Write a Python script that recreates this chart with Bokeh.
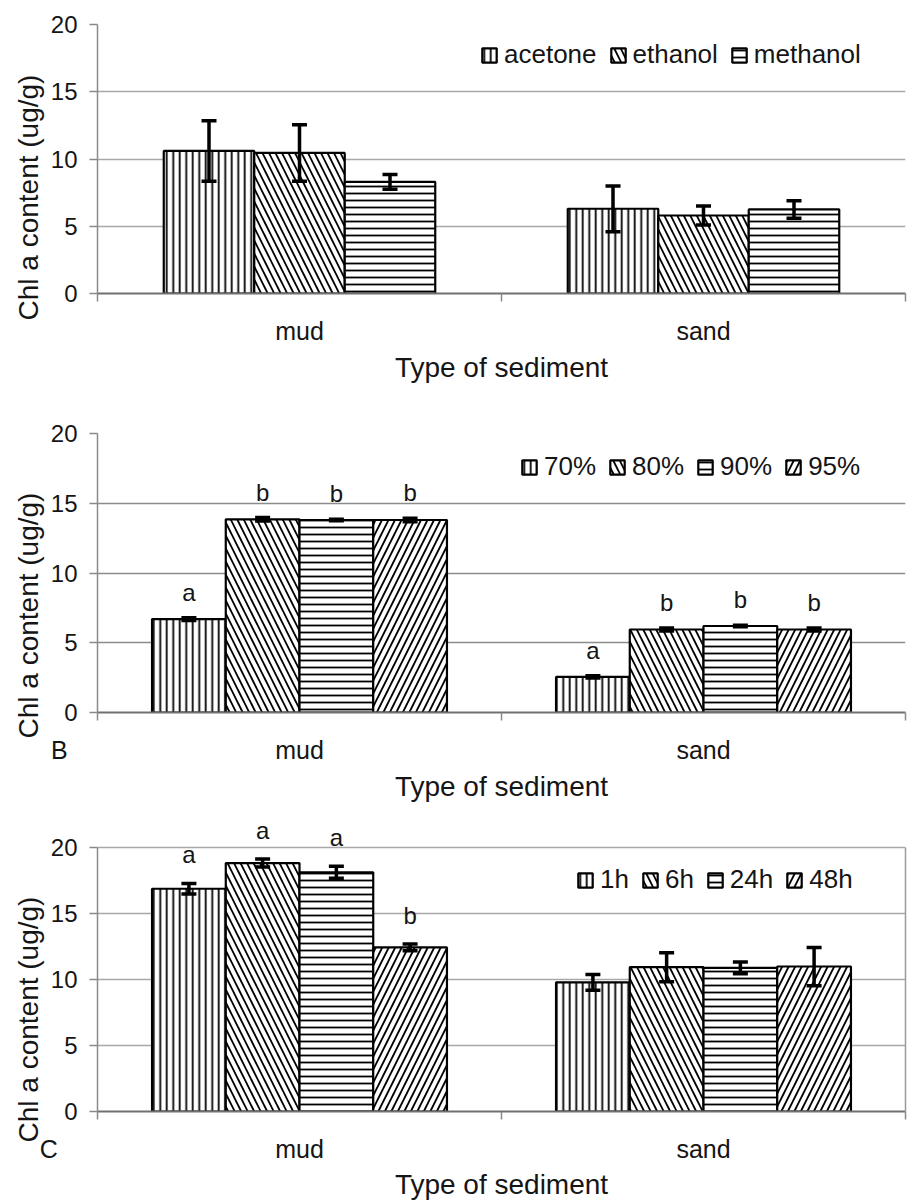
import numpy as np
from bokeh.plotting import figure
from bokeh.layouts import column
from bokeh.models import (ColumnDataSource, Range1d, LinearAxis, FixedTicker, Whisker, TeeHead,
                          LabelSet, Title)
from bokeh.transform import dodge
from bokeh.embed import file_html
from bokeh.resources import INLINE
from bokeh.core.properties import value

# ---------------- data ----------------
categories = ["mud", "sand"]
y_ticks = [0, 5, 10, 15, 20]

# Panel A: extraction solvent
solvents = ["acetone", "ethanol", "methanol"]
a_acetone = [10.6, 6.3]
a_ethanol = [10.45, 5.8]
a_methanol = [8.3, 6.25]
a_acetone_err = [2.25, 1.7]
a_ethanol_err = [2.1, 0.7]
a_methanol_err = [0.55, 0.65]

# Panel B: solvent concentration
concentrations = ["70%", "80%", "90%", "95%"]
b_70 = [6.7, 2.55]
b_80 = [13.85, 5.95]
b_90 = [13.8, 6.2]
b_95 = [13.8, 5.95]
b_70_err = [0.1, 0.08]
b_80_err = [0.12, 0.1]
b_90_err = [0.05, 0.05]
b_95_err = [0.12, 0.1]
b_70_letters = ["a", "a"]
b_80_letters = ["b", "b"]
b_90_letters = ["b", "b"]
b_95_letters = ["b", "b"]

# Panel C: extraction time
times = ["1h", "6h", "24h", "48h"]
c_1h = [16.9, 9.8]
c_6h = [18.85, 10.95]
c_24h = [18.15, 10.9]
c_48h = [12.45, 11.0]
c_1h_err = [0.4, 0.6]
c_6h_err = [0.3, 1.1]
c_24h_err = [0.45, 0.45]
c_48h_err = [0.25, 1.45]
c_1h_letters = ["a", ""]
c_6h_letters = ["a", ""]
c_24h_letters = ["a", ""]
c_48h_letters = ["b", ""]

# ---------------- style ----------------
FONT = "Liberation Sans"
TXT = "#151515"
GRAY = "#8a8a8a"
HATCH = {"|": 6.5, "\\": 13, "-": 7, "/": 13}
PATTERNS = ["|", "\\", "-", "/"]
NBSP = "\u00a0"

ncat = len(categories)
centers = np.arange(ncat) + 0.5
bounds = list(range(ncat + 1))
YMAX = y_ticks[-1]


def build_panel(series, vals, errs, letters, cfg):
    n = len(series)
    bw = cfg["bar_w"]
    offsets = [(i - (n - 1) / 2) * bw for i in range(n)]
    p = figure(width=907, height=cfg["h"],
               x_range=Range1d(0, ncat), y_range=Range1d(0, cfg["yend"]),
               x_axis_location=None, toolbar_location=None, output_backend="svg",
               min_border_left=cfg["left"], min_border_right=cfg["right"],
               min_border_top=cfg["top"], min_border_bottom=cfg["h"] - cfg["top"] - cfg["fh"])
    p.background_fill_color = "white"
    p.border_fill_color = "white"
    p.outline_line_color = None
    p.xgrid.visible = False

    # y axis / grid
    yt = FixedTicker(ticks=y_ticks)
    p.yaxis.ticker = yt
    p.yaxis.bounds = (0, YMAX)
    p.ygrid.ticker = yt
    p.ygrid.grid_line_color = cfg["grid"]
    p.ygrid.grid_line_width = 1.5
    p.yaxis.axis_line_color = GRAY
    p.yaxis.axis_line_width = 1.5
    p.yaxis.major_tick_line_color = GRAY
    p.yaxis.major_tick_line_width = 1.5
    p.yaxis.major_tick_out = 8
    p.yaxis.major_tick_in = 0
    p.yaxis.minor_tick_line_color = None
    p.yaxis.major_label_standoff = 12
    p.yaxis.major_label_text_font = FONT
    p.yaxis.major_label_text_font_size = "24px"
    p.yaxis.major_label_text_color = TXT

    if cfg["box"]:
        rax = LinearAxis(bounds=(0, YMAX), ticker=FixedTicker(ticks=[]),
                         major_label_text_font_size="0px", major_label_standoff=0,
                         major_tick_out=0, major_tick_in=0, minor_tick_out=0, minor_tick_in=0,
                         axis_line_color="#9a9a9a", axis_line_width=1.5)
        p.add_layout(rax, "right")

    # x axis line with short ticks at the category boundaries
    sep_axis = LinearAxis(ticker=FixedTicker(ticks=bounds),
                          major_label_overrides={b: "" for b in bounds},
                          major_label_text_font_size="0px", major_label_standoff=0,
                          major_tick_out=8, major_tick_in=0, minor_tick_out=0, minor_tick_in=0,
                          major_tick_line_color=GRAY, major_tick_line_width=1.5,
                          axis_line_color="#707070", axis_line_width=2)
    p.add_layout(sep_axis, "below")

    # category names (the panel tag sits on the same row, left of the y axis)
    tick_pos = [float(c) for c in centers]
    overrides = {float(c): name for c, name in zip(centers, categories)}
    if cfg.get("tag"):
        tick_pos = [0.0] + tick_pos
        overrides[0.0] = cfg["tag"] + NBSP * cfg["tag_pad"]
    lab_axis = LinearAxis(ticker=FixedTicker(ticks=tick_pos),
                          major_label_overrides=overrides,
                          major_tick_out=0, major_tick_in=0, major_tick_line_color=None,
                          minor_tick_line_color=None, axis_line_color=None,
                          major_label_standoff=cfg["cat_standoff"],
                          major_label_text_font=FONT, major_label_text_font_size="25px",
                          major_label_text_color=TXT,
                          axis_label="Type of sediment", axis_label_standoff=cfg["xl_standoff"],
                          axis_label_text_font=FONT, axis_label_text_font_size="28px",
                          axis_label_text_font_style="normal", axis_label_text_color=TXT)
    p.add_layout(lab_axis, "below")

    # y axis title (shifted down along the axis like the original)
    p.add_layout(Title(text="Chl a content (ug/g)", align="left", offset=cfg["ylab_off"],
                       standoff=8, text_font=FONT, text_font_size="28px",
                       text_font_style="normal", text_color=TXT), "left")

    data = {"xc": centers}
    for i in range(n):
        v = np.array(vals[i], dtype=float)
        e = np.array(errs[i], dtype=float)
        data[f"v{i}"] = v
        data[f"hi{i}"] = v + e
        data[f"lo{i}"] = v - e
        if letters is not None:
            data[f"let{i}"] = letters[i]
    src = ColumnDataSource(data)

    for i in range(n):
        pat = PATTERNS[i]
        p.vbar(x=dodge("xc", offsets[i]), top=f"v{i}", width=bw, source=src,
               fill_color="white", line_color="black", line_width=2.2,
               hatch_pattern=pat, hatch_scale=HATCH[pat], hatch_weight=1.8, hatch_color="black",
               legend_label=series[i])
        w = Whisker(source=src, base=dodge("xc", offsets[i]),
                    upper=f"hi{i}", lower=f"lo{i}", line_color="black", line_width=3.5,
                    upper_head=TeeHead(size=15, line_width=3.5, line_color="black"),
                    lower_head=TeeHead(size=15, line_width=3.5, line_color="black"),
                    level="overlay")
        p.add_layout(w)
        if letters is not None:
            ls = LabelSet(source=src, x=dodge("xc", offsets[i]), y=f"hi{i}",
                          text=f"let{i}", y_offset=cfg["let_off"], text_align="center",
                          text_baseline="bottom", text_font=value(FONT),
                          text_font_size=value("24px"), text_color=value(TXT))
            p.add_layout(ls)

    lg = p.legend[0]
    lg.orientation = "horizontal"
    lg.location = cfg["legend_loc"]
    lg.border_line_color = None
    lg.background_fill_alpha = 0
    lg.padding = 0
    lg.margin = 0
    lg.spacing = 12
    lg.label_standoff = 6
    lg.glyph_width = 18
    lg.glyph_height = 18
    lg.label_height = 28
    lg.label_text_font = FONT
    lg.label_text_font_size = "26px"
    lg.label_text_color = TXT
    return p


pA = build_panel(solvents, [a_acetone, a_ethanol, a_methanol],
                 [a_acetone_err, a_ethanol_err, a_methanol_err], None,
                 dict(h=404, left=94, right=0, top=24, fh=269, yend=20, bar_w=0.224,
                      grid="#a8a8a8", box=False, cat_standoff=15, xl_standoff=4, let_off=10,
                      legend_loc=(383, 223), ylab_off=-27))
pB = build_panel(concentrations, [b_70, b_80, b_90, b_95],
                 [b_70_err, b_80_err, b_90_err, b_95_err],
                 [b_70_letters, b_80_letters, b_90_letters, b_95_letters],
                 dict(h=402, left=97, right=0, top=29, fh=279, yend=20, bar_w=0.1825,
                      grid="#8c8c8c", box=False, cat_standoff=15, xl_standoff=4, let_off=12,
                      legend_loc=(423, 230), ylab_off=-26, tag="B", tag_pad=11))
pC = build_panel(times, [c_1h, c_6h, c_24h, c_48h],
                 [c_1h_err, c_6h_err, c_24h_err, c_48h_err],
                 [c_1h_letters, c_6h_letters, c_24h_letters, c_48h_letters],
                 dict(h=396, left=90, right=2, top=19, fh=286, yend=21.7, bar_w=0.1825,
                      grid="#a8a8a8", box=True, cat_standoff=15, xl_standoff=3, let_off=15,
                      legend_loc=(479, 216), ylab_off=-31, tag="C", tag_pad=14))

layout = column(pA, pB, pC, spacing=0)
open("out.html", "w").write(file_html(layout, INLINE))
